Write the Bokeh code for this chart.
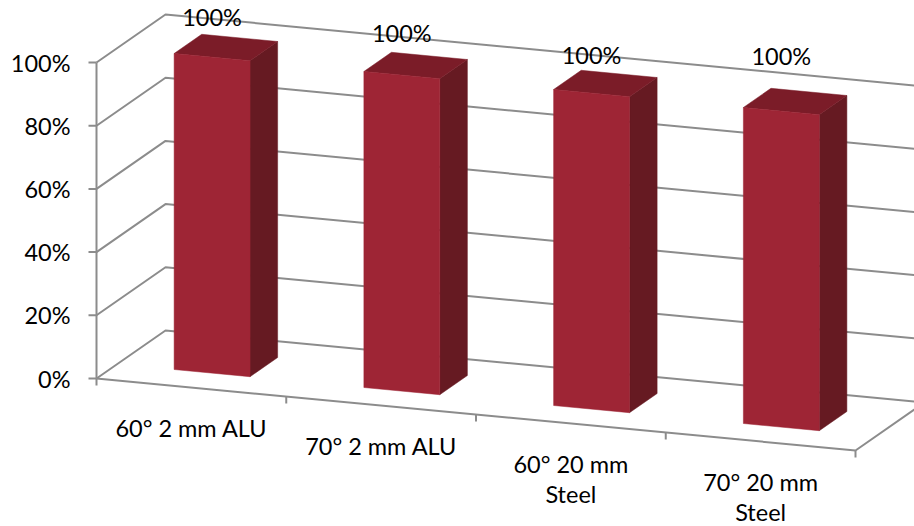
from bokeh.plotting import figure
from bokeh.models import Range1d
from bokeh.embed import file_html
from bokeh.resources import INLINE
from bokeh.core.properties import value

# ---- data ----
categories = ["60° 2 mm ALU", "70° 2 mm ALU", "60° 20 mm\nSteel", "70° 20 mm\nSteel"]
values = [1.0, 1.0, 1.0, 1.0]
data_labels = ["100%", "100%", "100%", "100%"]
y_ticks = [0.0, 0.2, 0.4, 0.6, 0.8, 1.0]
y_tick_labels = ["0%", "20%", "40%", "60%", "80%", "100%"]

# ---- style / projection of the 3-D box ----
ORIGIN = (96.0, 378.0)      # front-left-bottom corner
X_VEC = (759.0, 72.0)       # full category span
D_VEC = (69.0, -48.0)       # full depth
V_SCALE = 316.0             # height of 100 %
BAR_W = (0.3, 0.7)          # bar extent inside a category
BAR_D = (0.3, 0.7)          # bar extent in depth
LABEL_DY = [-40, -42, -38, -55]
FONT = "Lato"
FS = "23.5px"
GRID_C = "#8c8c8c"
FRONT_C, TOP_C, SIDE_C = "#9e2535", "#7b1c28", "#661a22"
n = len(categories)


def proj(c, d, v):
    a = c / n
    return (ORIGIN[0] + a * X_VEC[0] + d * D_VEC[0],
            ORIGIN[1] + a * X_VEC[1] + d * D_VEC[1] - v * V_SCALE)


p = figure(width=914, height=526, x_range=Range1d(0, 914), y_range=Range1d(526, 0),
           output_backend="svg", toolbar_location=None, min_border=0)
p.axis.visible = False
p.grid.visible = False
p.outline_line_color = None
p.background_fill_color = "white"
p.border_fill_color = "white"

# walls gridlines
xs, ys = [], []
for v in y_ticks:
    pts = [proj(0, 0, v), proj(0, 1, v), proj(n, 1, v)]
    xs.append([q[0] for q in pts])
    ys.append([q[1] for q in pts])
# floor front + right edge
pts = [proj(0, 0, 0), proj(n, 0, 0), proj(n, 1, 0)]
xs.append([q[0] for q in pts]); ys.append([q[1] for q in pts])
# vertical axis line
pts = [proj(0, 0, 0), proj(0, 0, max(y_ticks))]
xs.append([q[0] for q in pts]); ys.append([q[1] for q in pts])
# value ticks
for v in y_ticks:
    x0, y0 = proj(0, 0, v)
    xs.append([x0 - 8, x0]); ys.append([y0, y0])
# category ticks
for c in range(n + 1):
    x0, y0 = proj(c, 0, 0)
    xs.append([x0, x0]); ys.append([y0, y0 + 7])
p.multi_line(xs, ys, line_color=GRID_C, line_width=2)

# bars
fx, fy, tx, ty, sx, sy = [], [], [], [], [], []
for i, v in enumerate(values):
    c0, c1 = i + BAR_W[0], i + BAR_W[1]
    d0, d1 = BAR_D
    front = [proj(c0, d0, 0), proj(c1, d0, 0), proj(c1, d0, v), proj(c0, d0, v)]
    top = [proj(c0, d0, v), proj(c1, d0, v), proj(c1, d1, v), proj(c0, d1, v)]
    side = [proj(c1, d0, 0), proj(c1, d1, 0), proj(c1, d1, v), proj(c1, d0, v)]
    fx.append([q[0] for q in front]); fy.append([q[1] for q in front])
    tx.append([q[0] for q in top]); ty.append([q[1] for q in top])
    sx.append([q[0] for q in side]); sy.append([q[1] for q in side])
p.patches(sx, sy, fill_color=SIDE_C, line_color=SIDE_C, line_width=0.5)
p.patches(tx, ty, fill_color=TOP_C, line_color=TOP_C, line_width=0.5)
p.patches(fx, fy, fill_color=FRONT_C, line_color=FRONT_C, line_width=0.5)

# data labels
lx, ly = [], []
for i, v in enumerate(values):
    x0, y0 = proj(i + 0.5, BAR_D[0], v)
    lx.append(x0); ly.append(y0 + LABEL_DY[i])
p.text(lx, ly, text=data_labels, text_align="center", text_baseline="middle",
       text_font=value(FONT), text_font_size=FS, text_color="black")

# value tick labels
vx, vy = [], []
for v in y_ticks:
    x0, y0 = proj(0, 0, v)
    vx.append(x0 - 26); vy.append(y0)
p.text(vx, vy, text=y_tick_labels, text_align="right", text_baseline="middle",
       text_font=value(FONT), text_font_size=FS, text_color="black")

# category labels (one text per line)
cx, cy, ct = [], [], []
for i, cat in enumerate(categories):
    x0, y0 = proj(i + 0.5, 0, 0)
    for k, line in enumerate(cat.split("\n")):
        cx.append(x0); cy.append(y0 + 40 + 30 * k); ct.append(line)
p.text(cx, cy, text=ct, text_align="center", text_baseline="middle",
       text_font=value(FONT), text_font_size=FS, text_color="black")

open("out.html", "w").write(file_html(p, INLINE))
